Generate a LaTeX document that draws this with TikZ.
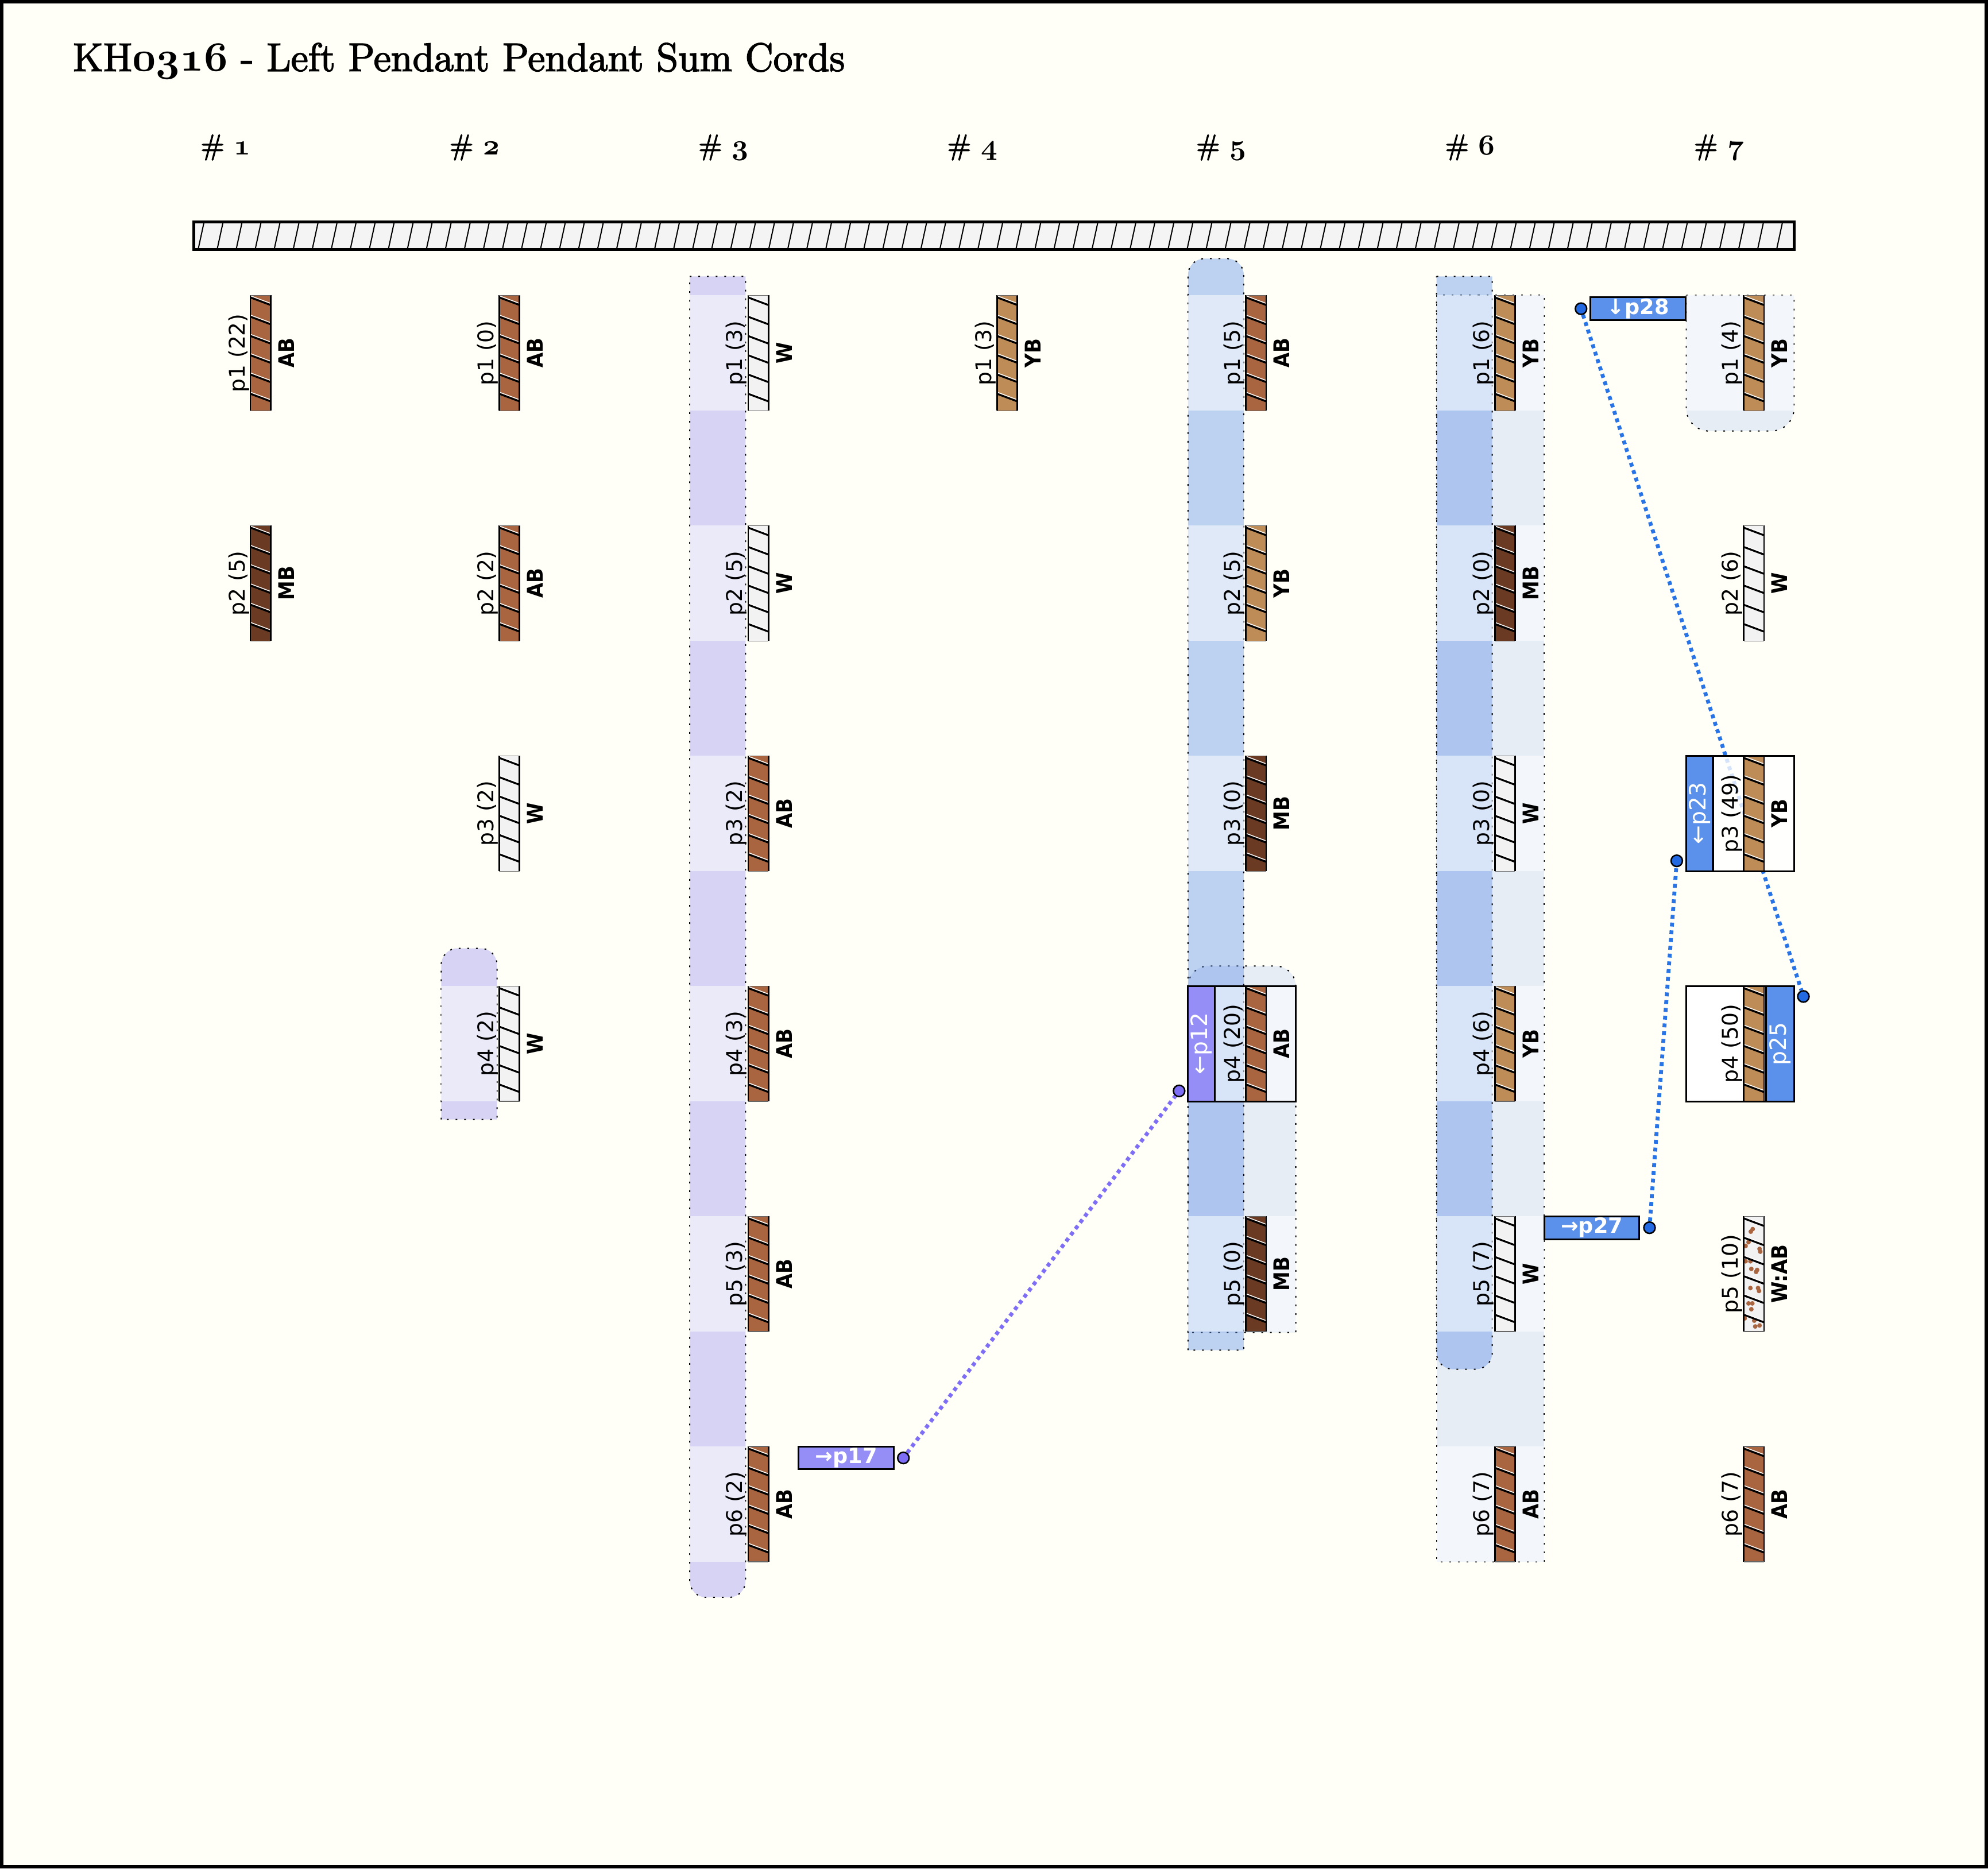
\documentclass[tikz,border=0pt]{standalone}
\usepackage{fontspec}
\usetikzlibrary{calc}
\newfontfamily\djv{DejaVu Sans}
\newfontfamily\djvc{DejaVu Sans}[FakeStretch=0.9]
\newfontfamily\ttl{Latin Modern Roman}[FakeBold=2.5]
\newcommand\osn[1]{{\boldmath$\mathnormal{#1}$}}
\definecolor{ivory}{RGB}{255,255,248}
\definecolor{ABc}{RGB}{168,101,64}
\definecolor{MBc}{RGB}{107,58,35}
\definecolor{YBc}{RGB}{190,140,86}
\definecolor{Wc}{RGB}{242,242,242}
\definecolor{bluebase}{RGB}{90,140,230}
\definecolor{lavbase}{RGB}{120,110,235}
\definecolor{purp}{RGB}{148,142,246}
\definecolor{bluebox}{RGB}{91,145,234}
\definecolor{lineblue}{RGB}{40,115,230}
\definecolor{linepurp}{RGB}{125,110,245}
\definecolor{dotblue}{RGB}{35,105,225}
\definecolor{barfill}{RGB}{244,244,244}
\newcommand\uu{0.44pt}
\def\cxA{205.5}\def\cxB{401.8}\def\cxC{598.1}\def\cxD{794.4}\def\cxE{990.7}\def\cxF{1187}\def\cxG{1383.3}
\def\rowA{233}\def\rowB{414.6}\def\rowC{596.2}\def\rowD{777.8}\def\rowE{959.4}\def\rowF{1141}
\tikzset{
 cordn/.style={draw=none, inner sep=0pt, outer sep=0pt, minimum width=16*\uu, minimum height=91*\uu},
 stripeblk/.style={black, line width=0.66pt},
 stripewht/.style={white, line width=0.28pt},
 cordside/.style={black, line width=0.55pt},
 cordend/.style={black!60, line width=0.3pt},
 plab/.style={font=\djv\fontsize{7.5}{8}\selectfont, rotate=90, anchor=base, inner sep=0pt},
 clab/.style={font=\djvc\bfseries\fontsize{7.5}{8}\selectfont, rotate=90, anchor=base, inner sep=0pt},
 striplab/.style={font=\djv\fontsize{7.8}{8}\selectfont, text=white, rotate=90, inner sep=0pt},
 grpb/.style={draw=black, line width=0.4pt, dash pattern=on 0.6pt off 2.4pt},
 blueg/.style={fill=bluebase, fill opacity=0.15, grpb},
 bluestrip/.style={fill=bluebase, fill opacity=0.4, grpb},
 lavg/.style={fill=lavbase, fill opacity=0.3, grpb},
 rowband/.style={fill=white, fill opacity=0.53},
 boxn/.style={draw=black, line width=0.66pt, inner sep=0pt, outer sep=0pt, minimum width=85*\uu, minimum height=91*\uu},
 boxline/.style={black, line width=0.66pt},
 tagn/.style={draw=black, line width=0.6pt, inner sep=0pt, outer sep=0pt, minimum width=75*\uu, minimum height=18*\uu, text=white, font=\djv\bfseries\fontsize{7.3}{7.5}\selectfont},
 dotn/.style={circle, draw=black, line width=0.5pt, inner sep=0pt, minimum size=9*\uu},
 conb/.style={draw=lineblue, line width=1.35pt, dash pattern=on 1.35pt off 1.35pt},
 conp/.style={draw=linepurp, line width=1.35pt, dash pattern=on 1.35pt off 1.35pt},
 hdr/.style={anchor=base, inner sep=0pt, font=\ttl\fontsize{10}{11}\selectfont},
}
\newcommand\stripes[1]{%
 \begin{scope}
  \clip (#1.north west) rectangle (#1.south east);
  \foreach \k in {0,...,6}{%
   \draw[stripeblk] ($(#1.north west)+(-2,0.85+15.2*\k)$) -- ($(#1.north east)+(2,8.35+15.2*\k)$);
   \draw[stripewht] ($(#1.north west)+(-2,-0.45+15.2*\k)$) -- ($(#1.north east)+(2,7.05+15.2*\k)$);
  }
 \end{scope}
 \draw[cordside] (#1.north west) -- (#1.south west) (#1.north east) -- (#1.south east);
 \draw[cordend] (#1.north west) -- (#1.north east) (#1.south west) -- (#1.south east);
}
\newcommand\pend[6]{%
 \node[cordn, fill=#4] (#1) at (#2,#3+45.5) {};
 \stripes{#1}%
 \node[plab] (#1p) at (#2-12.5,#3+45.5) {#5};
 \node[clab] (#1c) at (#2+26.5,#3+45.5) {#6};
}
\newcommand\pendm[5]{%
 \node[cordn, fill=Wc] (#1) at (#2,#3+45.5) {};
 \begin{scope}
  \clip (#1.north west) rectangle (#1.south east);
  \foreach \dx/\dy in {7.1/10.1,5.6/12.1,3.8/20.4,1.5/23.4,12.5/25.7,13.1/27.9,1.5/35.5,5.3/35.5,6.0/41.5,10.6/42.3,9.8/43.8,5.3/56.6,11.3/56.6,12.1/58.9,3.8/68.7,6.8/68.7,6.0/73.3,0.8/80.5,8.3/82.3,9.1/86.9,12.5/86.1}
   \fill[ABc] ($(#1.north west)+(\dx,\dy)$) circle[radius=0.8pt];
 \end{scope}
 \stripes{#1}%
 \node[plab] (#1p) at (#2-12.5,#3+45.5) {#4};
 \node[clab] (#1c) at (#2+26.5,#3+45.5) {#5};
}
\begin{document}
\begin{tikzpicture}[x=0.44pt,y=-0.44pt]
\useasboundingbox (0,0) rectangle (1568,1474);
\fill[ivory] (0,0) rectangle (1568,1474);
\draw[black, line width=1.2pt] (1.4,1.4) rectangle (1566.6,1472.6);
% title and headers
\node[anchor=base west, inner sep=0pt, font=\ttl\fontsize{13.8}{16}\selectfont] (title) at (57,56) {KH\osn{0316} - Left Pendant Pendant Sum Cords};
\node[hdr] (h1) at (178,122) {\# \osn{1}};
\node[hdr] (h2) at (374.3,122) {\# \osn{2}};
\node[hdr] (h3) at (570.6,122) {\# \osn{3}};
\node[hdr] (h4) at (766.9,122) {\# \osn{4}};
\node[hdr] (h5) at (963.2,122) {\# \osn{5}};
\node[hdr] (h6) at (1159.5,122) {\# \osn{6}};
\node[hdr] (h7) at (1355.8,122) {\# \osn{7}};
% primary cord
\node[draw=black, line width=1pt, fill=barfill, minimum width=1262*\uu, minimum height=22*\uu, inner sep=0pt, outer sep=0pt] (primary) at (784,186) {};
\begin{scope}
 \clip (primary.south west) rectangle (primary.north east);
 \foreach \i in {0,...,84} \draw[black, line width=0.4pt] ($(primary.south west)+(3+15*\i,1)$) -- ++(5.2,-24);
\end{scope}
\draw[black, line width=1pt] (primary.south west) rectangle (primary.north east);
% group regions
\filldraw[lavg] (348,883) -- (348,761) arc[start angle=180,end angle=270,radius=13] -- (379,748) arc[start angle=270,end angle=360,radius=13] -- (392,883) -- cycle;
\filldraw[lavg] (544,218) -- (588,218) -- (588,1247) arc[start angle=0,end angle=90,radius=13] -- (557,1260) arc[start angle=90,end angle=180,radius=13] -- cycle;
\filldraw[blueg] (937,1051) -- (937,778) arc[start angle=180,end angle=270,radius=16] -- (1006,762) arc[start angle=270,end angle=360,radius=16] -- (1022,1051) -- cycle;
\filldraw[bluestrip] (937,1065) -- (937,217) arc[start angle=180,end angle=270,radius=13] -- (968,204) arc[start angle=270,end angle=360,radius=13] -- (981,1065) -- cycle;
\filldraw[blueg] (1133,233) rectangle (1218,1232);
\filldraw[bluestrip] (1133,218) -- (1177,218) -- (1177,1067) arc[start angle=0,end angle=90,radius=13] -- (1146,1080) arc[start angle=90,end angle=180,radius=13] -- cycle;
\filldraw[blueg] (1330,233) -- (1415,233) -- (1415,322) arc[start angle=0,end angle=90,radius=18] -- (1348,340) arc[start angle=90,end angle=180,radius=18] -- cycle;
% row bands
\fill[rowband] (348,\rowD) rectangle (392,\rowD+91);
\foreach \t in {\rowA,\rowB,\rowC,\rowD,\rowE,\rowF} \fill[rowband] (544,\t) rectangle (588,\t+91);
\foreach \t in {\rowA,\rowB,\rowC} \fill[rowband] (937,\t) rectangle (981,\t+91);
\foreach \t in {\rowD,\rowE} \fill[rowband] (937,\t) rectangle (1022,\t+91);
\foreach \t in {\rowA,\rowB,\rowC,\rowD,\rowE,\rowF} \fill[rowband] (1133,\t) rectangle (1218,\t+91);
\fill[rowband] (1330,\rowA) rectangle (1415,\rowA+91);
% tags and dots
\node[dotn, fill=linepurp] (d17) at (712.5,1150) {};
\node[dotn, fill=linepurp] (d12) at (930,860.5) {};
\node[dotn, fill=dotblue] (d27) at (1301,968.4) {};
\node[dotn, fill=dotblue] (d23) at (1322.5,679) {};
\node[dotn, fill=dotblue] (d28) at (1247,243.5) {};
\node[dotn, fill=dotblue] (d25) at (1422.4,786) {};
\draw[conp] (d17) -- (d12);
\draw[conb] (d27) -- (d23);
\draw[conb] (d28) -- (d25);
\node[tagn, fill=purp] (t17) at (667.5,1150) {→p17};
\node[tagn, fill=bluebox] (t27) at (1255.5,968.4) {→p27};
\node[tagn, fill=bluebox] (t28) at (1292,243.5) {↓p28};
% box cells
\fill[purp] (937,\rowD) rectangle (958,\rowD+91);
\node[striplab] (s12) at (947.5,\rowD+45.5) {←p12};
\fill[white, fill opacity=0.8] (1351,\rowC) rectangle (1415,\rowC+91);
\fill[bluebox] (1330,\rowC) rectangle (1351,\rowC+91);
\node[striplab] (s23) at (1340.5,\rowC+45.5) {←p23};
\fill[white] (1330,\rowD) rectangle (1415,\rowD+91);
\fill[bluebox] (1393,\rowD) rectangle (1415,\rowD+91);
\node[striplab] (s25) at (1404,\rowD+45.5) {p25};
% pendants
\pend{c1r1}{\cxA}{\rowA}{ABc}{p1 (22)}{AB}
\pend{c1r2}{\cxA}{\rowB}{MBc}{p2 (5)}{MB}
\pend{c2r1}{\cxB}{\rowA}{ABc}{p1 (0)}{AB}
\pend{c2r2}{\cxB}{\rowB}{ABc}{p2 (2)}{AB}
\pend{c2r3}{\cxB}{\rowC}{Wc}{p3 (2)}{W}
\pend{c2r4}{\cxB}{\rowD}{Wc}{p4 (2)}{W}
\pend{c3r1}{\cxC}{\rowA}{Wc}{p1 (3)}{W}
\pend{c3r2}{\cxC}{\rowB}{Wc}{p2 (5)}{W}
\pend{c3r3}{\cxC}{\rowC}{ABc}{p3 (2)}{AB}
\pend{c3r4}{\cxC}{\rowD}{ABc}{p4 (3)}{AB}
\pend{c3r5}{\cxC}{\rowE}{ABc}{p5 (3)}{AB}
\pend{c3r6}{\cxC}{\rowF}{ABc}{p6 (2)}{AB}
\pend{c4r1}{\cxD}{\rowA}{YBc}{p1 (3)}{YB}
\pend{c5r1}{\cxE}{\rowA}{ABc}{p1 (5)}{AB}
\pend{c5r2}{\cxE}{\rowB}{YBc}{p2 (5)}{YB}
\pend{c5r3}{\cxE}{\rowC}{MBc}{p3 (0)}{MB}
\pend{c5r4}{\cxE}{\rowD}{ABc}{p4 (20)}{AB}
\pend{c5r5}{\cxE}{\rowE}{MBc}{p5 (0)}{MB}
\pend{c6r1}{\cxF}{\rowA}{YBc}{p1 (6)}{YB}
\pend{c6r2}{\cxF}{\rowB}{MBc}{p2 (0)}{MB}
\pend{c6r3}{\cxF}{\rowC}{Wc}{p3 (0)}{W}
\pend{c6r4}{\cxF}{\rowD}{YBc}{p4 (6)}{YB}
\pend{c6r5}{\cxF}{\rowE}{Wc}{p5 (7)}{W}
\pend{c6r6}{\cxF}{\rowF}{ABc}{p6 (7)}{AB}
\pend{c7r1}{\cxG}{\rowA}{YBc}{p1 (4)}{YB}
\pend{c7r2}{\cxG}{\rowB}{Wc}{p2 (6)}{W}
\pend{c7r3}{\cxG}{\rowC}{YBc}{p3 (49)}{YB}
\pend{c7r4}{\cxG}{\rowD}{YBc}{p4 (50)}{}
\pendm{c7r5}{\cxG}{\rowE}{p5 (10)}{W:AB}
\pend{c7r6}{\cxG}{\rowF}{ABc}{p6 (7)}{AB}
% box outlines
\draw[boxline] (958,\rowD) -- (958,\rowD+91);
\draw[boxline] (1351,\rowC) -- (1351,\rowC+91);
\draw[boxline] (1393,\rowD) -- (1393,\rowD+91);
\node[boxn] (b12) at (979.5,\rowD+45.5) {};
\node[boxn] (b23) at (1372.5,\rowC+45.5) {};
\node[boxn] (b25) at (1372.5,\rowD+45.5) {};
\end{tikzpicture}
\end{document}
